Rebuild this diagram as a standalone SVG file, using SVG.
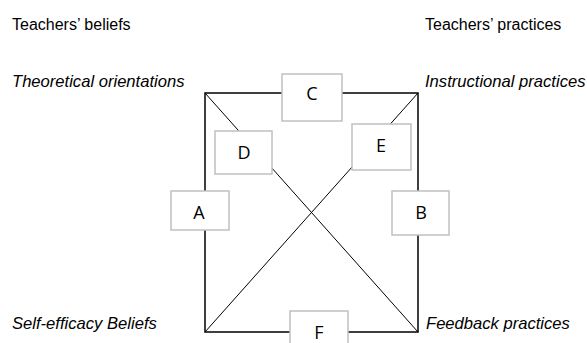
<svg xmlns="http://www.w3.org/2000/svg" width="587" height="343" viewBox="0 0 587 343">
<style>
.lbl{font-family:"Liberation Sans",Arial,sans-serif;font-size:16px;fill:#000}
.it{font-style:italic;font-size:16.6px}
.box rect{fill:#fff;stroke:#c0c0c0;stroke-width:1.5}
.box text{font-family:"Open Sans","Liberation Sans",sans-serif;font-size:18px;fill:#000;text-anchor:middle}
.edge{stroke:#000;stroke-width:1.5;fill:none}
.diag{stroke:#000;stroke-width:1;fill:none}
</style>
<rect width="587" height="343" fill="#fff"/>
<g id="labels">
<text class="lbl" x="12" y="30">Teachers’ beliefs</text>
<text class="lbl" x="425" y="30">Teachers’ practices</text>
<text class="lbl it" x="12" y="87">Theoretical orientations</text>
<text class="lbl it" x="425" y="87">Instructional practices</text>
<text class="lbl it" x="12" y="329">Self-efficacy Beliefs</text>
<text class="lbl it" x="426" y="329">Feedback practices</text>
</g>
<g id="connectors">
<path class="edge" d="M205,93 H418 V332 H205 Z"/>
<line class="diag" x1="205" y1="93" x2="418" y2="332"/>
<line class="diag" x1="205" y1="332" x2="418" y2="93"/>
</g>
<g id="C" class="box"><rect x="282" y="74" width="60" height="47"/><text x="312" y="100">C</text></g>
<g id="D" class="box"><rect x="215" y="131" width="57" height="43"/><text x="244" y="159">D</text></g>
<g id="E" class="box"><rect x="352" y="124" width="59" height="46"/><text x="381" y="152">E</text></g>
<g id="A" class="box"><rect x="171" y="191" width="58" height="39"/><text x="199" y="219">A</text></g>
<g id="B" class="box"><rect x="392" y="191" width="57" height="44"/><text x="421" y="219">B</text></g>
<g id="F" class="box"><rect x="290" y="311" width="58" height="40"/><text x="319" y="339">F</text></g>
</svg>
